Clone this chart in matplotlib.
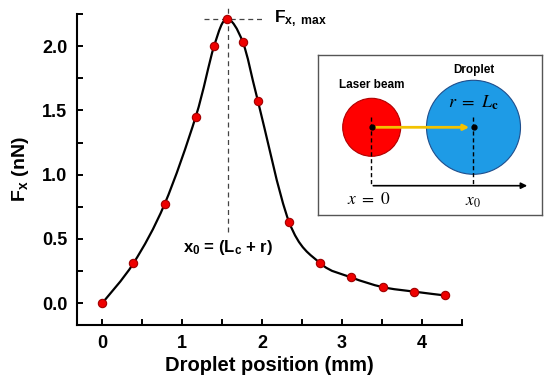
import numpy as np
import matplotlib
matplotlib.use("Agg")
import matplotlib.pyplot as plt
from matplotlib.path import Path
from matplotlib.patches import PathPatch, Circle

plt.rcParams['font.family'] = ['Liberation Sans', 'DejaVu Sans']
plt.rcParams['mathtext.fontset'] = 'custom'
plt.rcParams['mathtext.rm'] = 'Liberation Sans:bold'
plt.rcParams['mathtext.bf'] = 'Liberation Sans:bold'
plt.rcParams['mathtext.it'] = 'Liberation Sans:bold'

# measured force vs droplet position
position = [0.0, 0.39, 0.78, 1.17, 1.40, 1.56, 1.76, 1.95, 2.34, 2.73, 3.12, 3.51, 3.90, 4.29]
force = [0.0, 0.31, 0.77, 1.45, 2.00, 2.21, 2.03, 1.57, 0.63, 0.31, 0.20, 0.125, 0.09, 0.06]

x_ticks = [0, 1, 2, 3, 4]
y_ticks = [0.0, 0.5, 1.0, 1.5, 2.0]


def smooth_path(xs, ys):
    # Catmull-Rom through the points, drawn as cubic bezier segments
    pts = np.column_stack([xs, ys])
    ext = np.vstack([pts[0], pts, pts[-1]])
    verts = [pts[0]]
    codes = [Path.MOVETO]
    for i in range(1, len(ext) - 2):
        p0, p1, p2, p3 = ext[i - 1], ext[i], ext[i + 1], ext[i + 2]
        verts += [p1 + (p2 - p0) / 6, p2 - (p3 - p1) / 6, p2]
        codes += [Path.CURVE4] * 3
    return Path(verts, codes)


def is_major(t, majors):
    return any(abs(t - v) < 1e-9 for v in majors)


fig = plt.figure(figsize=(5.5, 3.83), dpi=100)
ax = fig.add_axes([77 / 550, 1 - 325 / 383, (461.7 - 77) / 550, (325 - 14) / 383])

ax.add_patch(PathPatch(smooth_path(position, force), fill=False, lw=1.6, color='black', zorder=2))
ax.plot(position, force, 'o', ms=6, mfc='#ee0000', mec='#a00000', mew=0.8, zorder=3)

ax.set_xlim(-0.316, 4.5)
ax.set_ylim(-0.17, 2.25)
xt = np.arange(0, 4.51, 0.5)
yt = np.arange(0, 2.26, 0.25)
ax.set_xticks(xt)
ax.set_xticklabels(['%d' % round(t) if is_major(t, x_ticks) else '' for t in xt])
ax.set_yticks(yt)
ax.set_yticklabels(['%.1f' % t if is_major(t, y_ticks) else '' for t in yt])
ax.tick_params(direction='in', length=4, width=1.4, labelsize=13, pad=7)
for lab in ax.get_xticklabels() + ax.get_yticklabels():
    lab.set_fontweight('bold')
for s in ['top', 'right']:
    ax.spines[s].set_visible(False)
for s in ['left', 'bottom']:
    ax.spines[s].set_linewidth(1.5)

ax.set_xlabel('Droplet position (mm)', fontsize=14.5, fontweight='bold', labelpad=3)
ax.set_ylabel(r'$\mathbf{F_x}$ (nN)', fontsize=14, fontweight='bold', labelpad=8)

# peak annotations
ax.plot([1.28, 2.03], [2.21, 2.21], ls=(0, (4, 3)), color='#444444', lw=0.9, zorder=1)
ax.plot([1.57, 1.57], [0.55, 2.31], ls=(0, (4, 3)), color='#444444', lw=0.9, zorder=1, clip_on=False)
ax.text(2.15, 2.21, r'$\mathbf{F_{x,\ max}}$', fontsize=12.5, va='center', ha='left')
ax.text(1.57, 0.43, r'$\mathbf{x_0}$ = ($\mathbf{L_c}$ + r)', fontsize=12, fontweight='bold',
        ha='center', va='center')

# inset sketch, in pixel units
ins = fig.add_axes([318 / 550, 1 - 215 / 383, 224 / 550, 160 / 383])
ins.set_xlim(318, 542)
ins.set_ylim(215, 55)
ins.set_xticks([])
ins.set_yticks([])
for s in ins.spines.values():
    s.set_color('#555555')
    s.set_linewidth(1.0)

ins.add_patch(Circle((371.7, 127.3), 29, fc='#ff0000', ec='#b00000', lw=0.8))
ins.add_patch(Circle((473.5, 127.3), 47, fc='#1e9be6', ec='#1f4e8c', lw=0.8))
ins.plot([371.3, 371.3], [117, 185.7], ls=(0, (3, 2)), color='black', lw=1.0)
ins.plot([473.3, 473.3], [117, 185.7], ls=(0, (3, 2)), color='black', lw=1.0)
ins.annotate('', xy=(530, 185.7), xytext=(370.5, 185.7),
             arrowprops=dict(arrowstyle='-|>', color='black', lw=1.2, mutation_scale=9))
ins.annotate('', xy=(472, 127.3), xytext=(372, 127.3),
             arrowprops=dict(arrowstyle='-|>', color='#f2c200', lw=2.0, mutation_scale=8))
ins.plot([371.7, 473.5], [127.3, 127.3], 'o', ms=3.5, color='black', zorder=5)

ins.text(371.7, 85, 'Laser beam', fontsize=8.5, fontweight='bold', ha='center', va='center')
ins.text(474, 70, 'Droplet', fontsize=8.5, fontweight='bold', ha='center', va='center')
ins.text(473, 103, r'$r\ =\ L_{\mathbf{c}}$', fontsize=13, ha='center', va='center', math_fontfamily='stix')
ins.text(369, 199, r'$x\ =\ 0$', fontsize=12.5, ha='center', va='center', math_fontfamily='stix')
ins.text(473, 202, r'$x_0$', fontsize=12.5, ha='center', va='center', math_fontfamily='stix')

fig.savefig('out.png', dpi=100)
